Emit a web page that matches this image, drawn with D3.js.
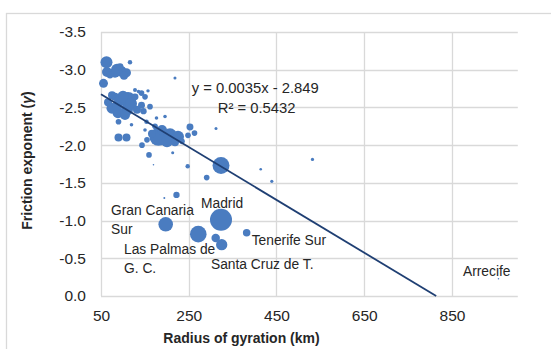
<!DOCTYPE html>
<html><head><meta charset="utf-8">
<script src="https://cdn.jsdelivr.net/npm/d3@7"></script>
<style>
html,body{margin:0;padding:0;background:#fff;}
svg{display:block;}
text{font-family:"Liberation Sans",Arial,sans-serif;fill:#262626;}
</style></head>
<body>
<svg id="chart" width="551" height="349"></svg>
<script>
// ---- data ----
const radius = [62.5,55.7,81.9,95.6,108.1,93.3,70.5,116.1,218.6,111.5,93.3,81.9,75,88.7,109.3,127.5,142.3,127.5,135.5,150.3,142.3,146.9,161.7,89.9,119.5,153.7,176.5,195.9,157.1,181,207.3,225.5,200.4,234.6,154.8,143.4,150.3,173.1,252.8,263.1,248.3,312.1,89.9,108.1,159.4,213.4,169.6,247.6,323.5,290.9,414,439.3,532,222,194.3,197.5,323.5,271.7,311.4,325.1,382,956,
  100.1,118.4,86.5,104.7,132,75.1,66,86.5,63.7,102.4,189,218.6,166.2];
const friction = [-3.10,-2.82,-2.96,-2.98,-2.96,-3.04,-2.93,-3.10,-2.89,-2.60,-2.60,-2.64,-2.49,-2.43,-2.47,-2.64,-2.69,-2.73,-2.71,-2.64,-2.53,-2.45,-2.51,-2.31,-2.27,-2.31,-2.36,-2.38,-2.72,-2.11,-2.13,-2.11,-2.05,-2.05,-2.07,-2.00,-2.20,-2.25,-2.24,-2.16,-2.13,-2.22,-2.10,-2.10,-1.87,-1.90,-1.74,-1.72,-1.73,-1.57,-1.68,-1.52,-1.81,-1.34,-1.30,-0.95,-1.01,-0.82,-0.77,-0.68,-0.84,-0.23,
  -2.64,-2.55,-2.52,-2.40,-2.47,-2.66,-2.57,-3.00,-2.97,-2.92,-2.20,-2.04,-2.15];
const bubbleSize = [36,20,25,30,20,12,12,5,2.3,64,36,16,30,30,36,12,8,4,3.2,8,12,10,8,8,3.2,5,3.2,3.2,2.9,81,49,36,36,8,8,8,3.2,8,12,8,8,2.3,16,16,8,2.3,0.6,5,72,8,1.7,2.6,2.6,10,1,53,121,69,18,32,14,0.6,
  36,36,25,25,16,16,16,36,25,16,25,16,16];
const xTicks = [50,250,450,650,850];
const yTicks = [0,-0.5,-1.0,-1.5,-2.0,-2.5,-3.0,-3.5];
const trendSlope = 0.0035, trendIntercept = -2.849;
const equationText = "y = 0.0035x - 2.849";
const r2Text = "R² = 0.5432";
// city labels: text with anchor in data units (left x, baseline y)
const cityLabels = [
  {text:"Gran Canaria", x:72.8, y:-1.074},
  {text:"Sur", x:72.8, y:-0.822},
  {text:"Madrid", x:277.9, y:-1.167},
  {text:"Las Palmas de", x:102.4, y:-0.557},
  {text:"G. C.", x:102.4, y:-0.305},
  {text:"Santa Cruz de T.", x:300.7, y:-0.358},
  {text:"Tenerife Sur", x:393.4, y:-0.676},
  {text:"Arrecife", x:875, y:-0.265}
];
const eqAnchor = {x:256.7, y:-2.691};
const r2Anchor = {x:316, y:-2.426};

// ---- layout ----
const svg = d3.select("#chart");
const L = 101, R = 517.8, T = 32, B = 296;
const x = d3.scaleLinear().domain([50,1000]).range([L,R]);
const y = d3.scaleLinear().domain([0,-3.5]).range([B,T]);
const rS = d3.scaleSqrt().domain([0,121]).range([0,11]);
const grid = "#d9d9d9";

// outer border
svg.append("rect").attr("x",6.5).attr("y",13.5).attr("width",700).attr("height",400)
  .attr("fill","none").attr("stroke",grid).attr("stroke-width",1.3);

// gridlines
svg.append("g").selectAll("line").data(yTicks).join("line")
  .attr("x1",L).attr("x2",R).attr("y1",d=>Math.round(y(d))+0.5).attr("y2",d=>Math.round(y(d))+0.5)
  .attr("stroke",grid).attr("stroke-width",1.3);
svg.append("g").selectAll("line").data(xTicks).join("line")
  .attr("y1",T).attr("y2",B).attr("x1",d=>Math.round(x(d))+0.5).attr("x2",d=>Math.round(x(d))+0.5)
  .attr("stroke",grid).attr("stroke-width",1.3);

// axes labels via d3 axes
const yAxis = svg.append("g").attr("transform",`translate(${L},0)`)
  .call(d3.axisLeft(y).tickValues(yTicks).tickFormat(d=>d.toFixed(1)).tickSize(0).tickPadding(15));
const xAxis = svg.append("g").attr("transform",`translate(0,${B})`)
  .call(d3.axisBottom(x).tickValues(xTicks).tickSize(0).tickPadding(14));
[yAxis,xAxis].forEach(a=>{
  a.select(".domain").remove();
  a.selectAll("text").attr("font-size",15.5).attr("fill","#404040")
   .attr("font-family",'"Liberation Sans",Arial,sans-serif');
});

// bubbles
const pts = radius.map((v,i)=>({x:v,y:friction[i],s:bubbleSize[i]}));
pts.sort((a,b)=>b.s-a.s);
svg.append("g").selectAll("circle").data(pts).join("circle")
  .attr("cx",d=>x(d.x)).attr("cy",d=>y(d.y)).attr("r",d=>rS(d.s))
  .attr("fill","#4a7cc0");

// trendline from x=50 until y=0
const xEnd = -trendIntercept/trendSlope;
svg.append("line")
  .attr("x1",x(50)).attr("y1",y(trendSlope*50+trendIntercept))
  .attr("x2",x(xEnd)).attr("y2",y(0))
  .attr("stroke","#1f3f73").attr("stroke-width",1.8);

// equation
svg.append("text").attr("x",x(eqAnchor.x)).attr("y",y(eqAnchor.y)).attr("font-size",14.8).text(equationText);
svg.append("text").attr("x",x(r2Anchor.x)).attr("y",y(r2Anchor.y)).attr("font-size",14.8).text(r2Text);

// city labels
svg.append("g").selectAll("text").data(cityLabels).join("text")
  .attr("x",d=>x(d.x)).attr("y",d=>y(d.y)).attr("font-size",13.8).text(d=>d.text);

// axis titles
svg.append("text").attr("x",241.5).attr("y",343).attr("text-anchor","middle")
  .attr("font-size",14).attr("font-weight","bold").attr("fill","#404040").text("Radius of gyration (km)");
const yt = svg.append("text").attr("transform","translate(32,160.5) rotate(-90)").attr("text-anchor","middle")
  .attr("font-size",14).attr("font-weight","bold").attr("fill","#404040");
yt.append("tspan").text("Friction exponent (");
yt.append("tspan").attr("font-style","italic").text("γ");
yt.append("tspan").text(")");
</script>
</body></html>
